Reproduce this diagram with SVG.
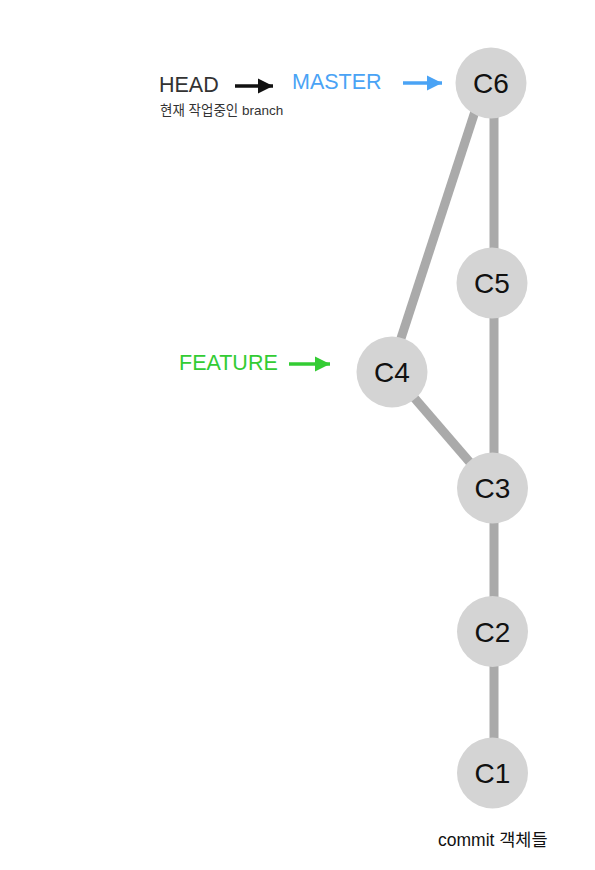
<svg xmlns="http://www.w3.org/2000/svg" width="595" height="870" viewBox="0 0 595 870">
<defs>
<style>
.edge{stroke:#aaaaaa;stroke-width:9;fill:none}
.node circle{fill:#d4d4d4}
.node text{font-family:"Liberation Sans",Arial,sans-serif;font-size:28px;fill:#111;text-anchor:middle}
.lbl{font-family:"Liberation Sans",Arial,sans-serif;font-size:21.5px}
.sub{font-family:"Liberation Sans","Noto Sans CJK KR",sans-serif;font-size:13.5px;fill:#333}
</style>
<marker id="ah" viewBox="0 0 10 10" refX="10" refY="5" markerWidth="4.3" markerHeight="4.3" markerUnits="strokeWidth" orient="auto"><path d="M0,0L10,5L0,10z" fill="context-stroke"/></marker>
</defs>
<rect width="595" height="870" fill="#fff"/>
<g id="connectors">
<line class="edge" x1="494" y1="90" x2="494" y2="280"/>
<line class="edge" x1="494" y1="285" x2="494" y2="490"/>
<line class="edge" x1="494" y1="490" x2="494" y2="773"/>
<line class="edge" x1="482" y1="90" x2="390" y2="372"/>
<line class="edge" x1="392" y1="372" x2="492" y2="488"/>
</g>
<g id="n-c6" class="node"><circle cx="491" cy="83" r="35.5"/><text x="491" y="93">C6</text></g>
<g id="n-c5" class="node"><circle cx="492" cy="283" r="35.5"/><text x="492" y="293">C5</text></g>
<g id="n-c4" class="node"><circle cx="392" cy="372" r="35.5"/><text x="392" y="382">C4</text></g>
<g id="n-c3" class="node"><circle cx="492.5" cy="488" r="35.5"/><text x="492.5" y="498">C3</text></g>
<g id="n-c2" class="node"><circle cx="492.5" cy="631.5" r="35.5"/><text x="492.5" y="641.5">C2</text></g>
<g id="n-c1" class="node"><circle cx="492.5" cy="773" r="35.5"/><text x="492.5" y="783">C1</text></g>
<g id="head">
<text class="lbl" x="159" y="92" fill="#333">HEAD</text>
<text class="sub" x="160" y="115">현재 작업중인 branch</text>
<line x1="235" y1="86" x2="273" y2="86" stroke="#111" stroke-width="3.5" marker-end="url(#ah)"/>
</g>
<g id="master">
<text class="lbl" x="292" y="89" fill="#4aa3f5">MASTER</text>
<line x1="403" y1="83" x2="442" y2="83" stroke="#4aa3f5" stroke-width="3.5" marker-end="url(#ah)"/>
</g>
<g id="feature">
<text class="lbl" x="179" y="370" fill="#33cc33">FEATURE</text>
<line x1="289" y1="364" x2="330" y2="364" stroke="#33cc33" stroke-width="3.5" marker-end="url(#ah)"/>
</g>
<text x="438" y="846" font-family="'Liberation Sans','Noto Sans CJK KR',sans-serif" font-size="17.5" fill="#111">commit 객체들</text>
</svg>
